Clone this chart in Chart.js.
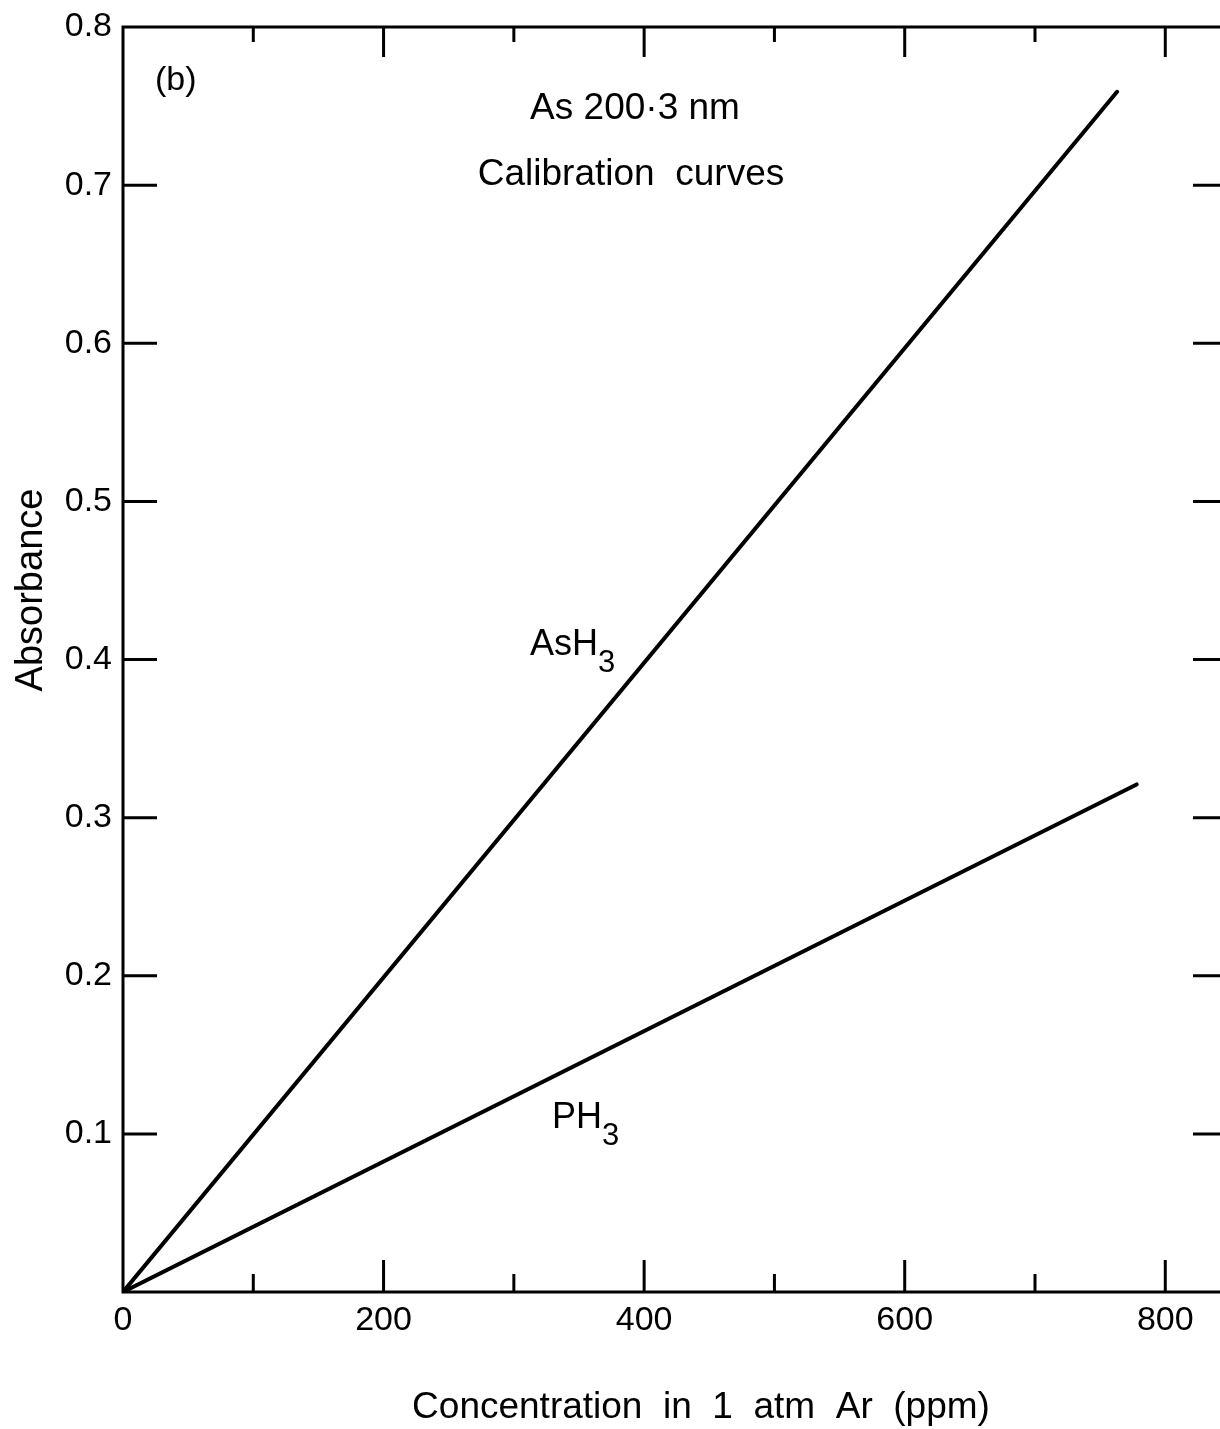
<!DOCTYPE html>
<html>
<head>
<meta charset="utf-8">
<script src="https://cdn.jsdelivr.net/npm/chart.js@4/dist/chart.umd.min.js"></script>
<style>
  html, body { margin: 0; padding: 0; background: #fff; }
  #wrap { width: 1220px; height: 1429px; }
</style>
</head>
<body>
<div id="wrap"><canvas id="c" width="1220" height="1429"></canvas></div>
<script>
// ---- data ----
const concAsH3 = [0, 763];
const absAsH3 = [0, 0.759];
const concPH3 = [0, 778];
const absPH3 = [0, 0.321];
const xTickValues = [0, 200, 400, 600, 800];
const xMinorTickValues = [100, 300, 500, 700];
const yTickValues = [0.1, 0.2, 0.3, 0.4, 0.5, 0.6, 0.7, 0.8];
const xTitle = 'Concentration  in  1  atm  Ar  (ppm)';
const yTitle = 'Absorbance';
const panelLabel = '(b)';
const titleLines = ['As 200\u00B73 nm', 'Calibration  curves'];
const seriesNames = ['AsH', 'PH'];

const FONT = '"Liberation Sans", Arial, Helvetica, sans-serif';

const toPoints = (xs, ys) => xs.map((x, i) => ({ x: x, y: ys[i] }));

const framePlugin = {
  id: 'frame',
  afterDraw(chart) {
    const ctx = chart.ctx;
    const xs = chart.scales.x, ys = chart.scales.y;
    const L = chart.chartArea.left, R = chart.chartArea.right;
    const T = chart.chartArea.top, B = chart.chartArea.bottom;
    ctx.save();
    ctx.strokeStyle = '#000';
    ctx.lineWidth = 3;
    ctx.lineCap = 'butt';
    ctx.beginPath();
    // frame
    ctx.moveTo(R, T); ctx.lineTo(L, T); ctx.lineTo(L, B); ctx.lineTo(R, B);
    // y ticks (inward), left and right
    yTickValues.forEach(v => {
      if (v >= 0.8) return;
      const py = ys.getPixelForValue(v);
      ctx.moveTo(L, py); ctx.lineTo(L + 34, py);
      ctx.moveTo(R - 27, py); ctx.lineTo(R, py);
    });
    // x major ticks
    xTickValues.forEach(v => {
      if (v === 0) return;
      const px = xs.getPixelForValue(v);
      ctx.moveTo(px, B); ctx.lineTo(px, B - 32);
      ctx.moveTo(px, T); ctx.lineTo(px, T + 30);
    });
    // x minor ticks
    xMinorTickValues.forEach(v => {
      const px = xs.getPixelForValue(v);
      ctx.moveTo(px, B); ctx.lineTo(px, B - 18);
      ctx.moveTo(px, T); ctx.lineTo(px, T + 15);
    });
    ctx.stroke();

    // texts
    ctx.fillStyle = '#000';
    ctx.textBaseline = 'alphabetic';
    // axis titles
    ctx.font = '37px ' + FONT;
    ctx.textAlign = 'center';
    ctx.fillText(xTitle, 701, 1418);
    ctx.save();
    ctx.translate(42, 590);
    ctx.rotate(-Math.PI / 2);
    ctx.font = '38px ' + FONT;
    ctx.fillText(yTitle, 0, 0);
    ctx.restore();
    // panel label
    ctx.font = '34px ' + FONT;
    ctx.textAlign = 'left';
    ctx.fillText(panelLabel, 155, 90);
    // title
    ctx.font = '37px ' + FONT;
    ctx.textAlign = 'center';
    ctx.fillText(titleLines[0], 635, 119);
    ctx.fillText(titleLines[1], 631, 185);
    // series labels with subscript
    const drawSub = (main, sub, x, y, dy) => {
      ctx.textAlign = 'left';
      ctx.font = '36px ' + FONT;
      ctx.fillText(main, x, y);
      const w = ctx.measureText(main).width;
      ctx.font = '31px ' + FONT;
      ctx.fillText(sub, x + w, y + dy);
    };
    drawSub(seriesNames[0], '3', 530, 655, 17);
    drawSub(seriesNames[1], '3', 552, 1128, 17);
    ctx.restore();
  }
};

new Chart(document.getElementById('c'), {
  type: 'line',
  data: {
    datasets: [
      { label: 'AsH3', data: toPoints(concAsH3, absAsH3), borderColor: '#000', borderWidth: 4,
        pointRadius: 0, tension: 0, fill: false, borderCapStyle: 'round' },
      { label: 'PH3', data: toPoints(concPH3, absPH3), borderColor: '#000', borderWidth: 4,
        pointRadius: 0, tension: 0, fill: false, borderCapStyle: 'round' }
    ]
  },
  options: {
    responsive: false,
    animation: false,
    devicePixelRatio: 1,
    layout: { padding: { top: 27, right: 0, left: 0, bottom: 0 } },
    plugins: { legend: { display: false }, tooltip: { enabled: false }, title: { display: false } },
    scales: {
      x: {
        type: 'linear', min: 0, max: 842,
        grid: { display: false, drawTicks: false },
        border: { display: false },
        afterBuildTicks: s => { s.ticks = xTickValues.map(v => ({ value: v })); },
        afterFit: s => { s.height = 137; s.paddingLeft = 0; s.paddingRight = 0; },
        ticks: { color: '#000', padding: 8, maxRotation: 0, autoSkip: false,
          font: { family: FONT, size: 34 }, callback: v => String(v) }
      },
      y: {
        type: 'linear', min: 0, max: 0.8,
        grid: { display: false, drawTicks: false },
        border: { display: false },
        afterBuildTicks: s => { s.ticks = yTickValues.map(v => ({ value: v })); },
        afterFit: s => { s.width = 123; s.paddingTop = 0; s.paddingBottom = 0; },
        ticks: { color: '#000', padding: 11, autoSkip: false,
          font: { family: FONT, size: 34 }, callback: v => Number(v).toFixed(1) }
      }
    }
  },
  plugins: [framePlugin]
});
</script>
</body>
</html>
